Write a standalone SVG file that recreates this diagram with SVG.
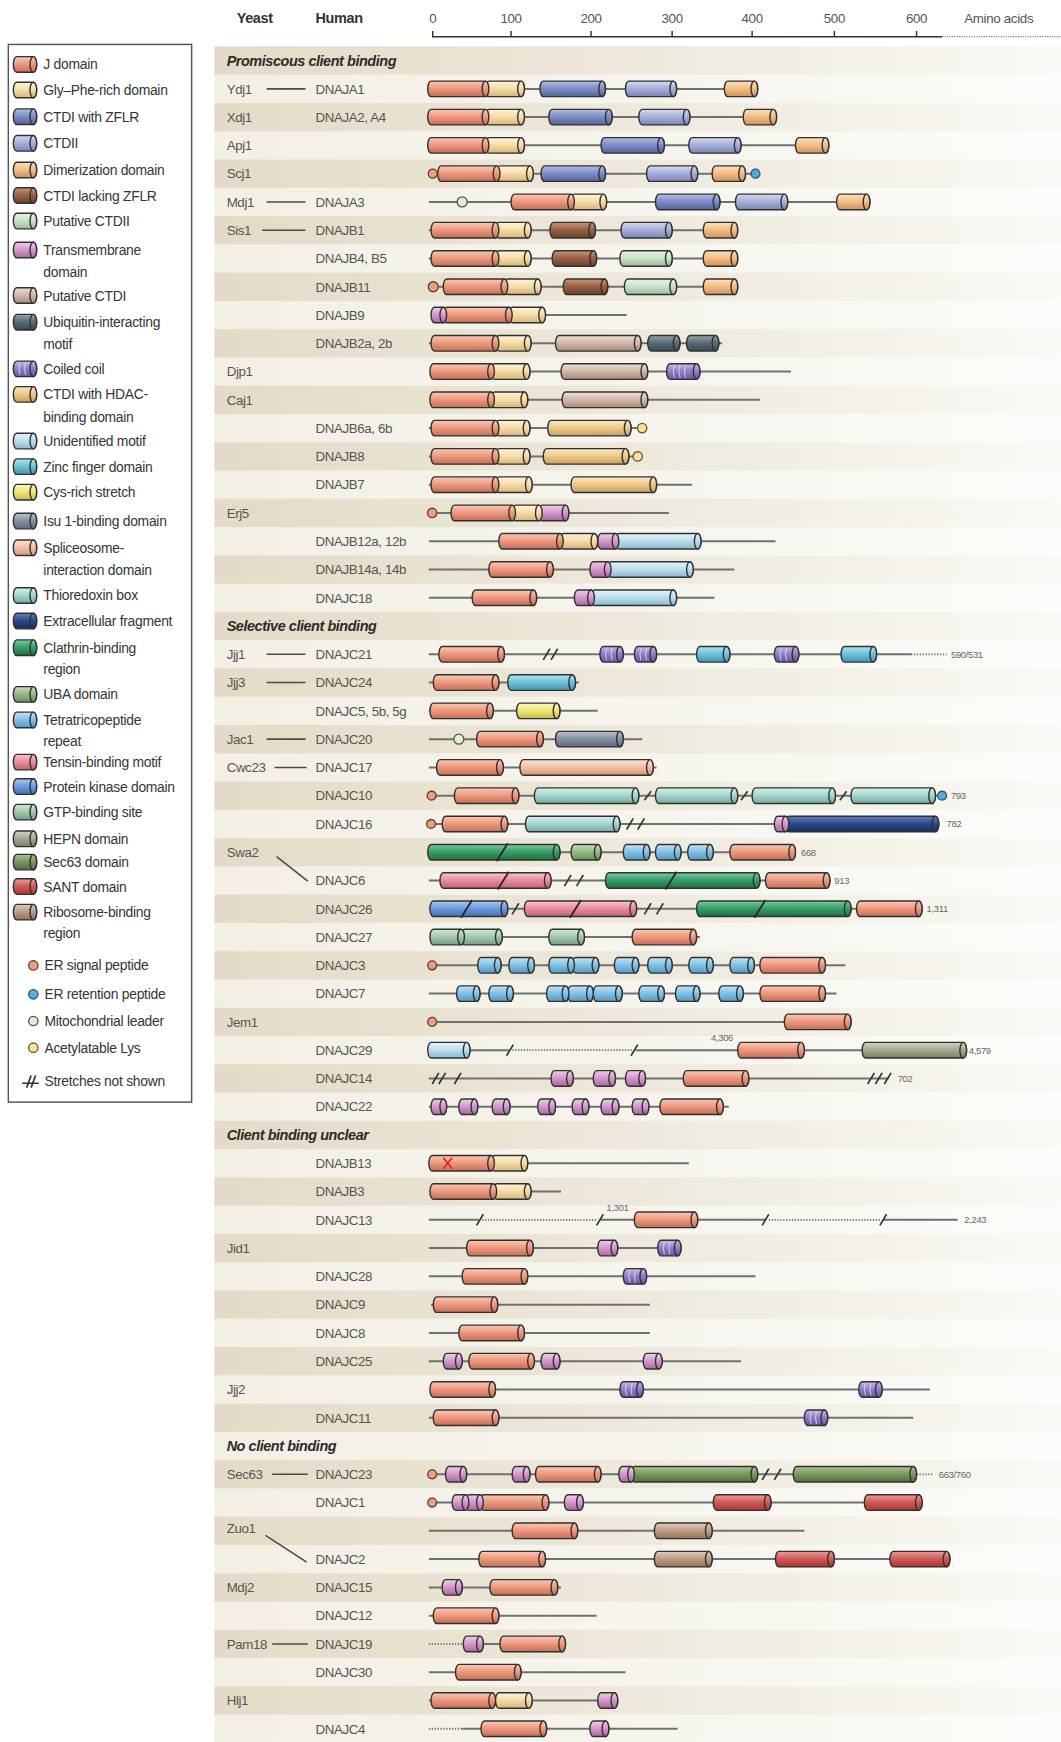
<svg xmlns="http://www.w3.org/2000/svg" width="1061" height="1742" viewBox="0 0 1061 1742">
<defs>
<linearGradient id="bgL" x1="0" y1="0" x2="1" y2="0"><stop offset="0" stop-color="#f3efe5"/><stop offset="0.6" stop-color="#f7f5ef"/><stop offset="1" stop-color="#fdfcfa"/></linearGradient>
<linearGradient id="bgD" x1="0" y1="0" x2="1" y2="0"><stop offset="0" stop-color="#e3dbc7"/><stop offset="0.3" stop-color="#e9e3d3"/><stop offset="0.65" stop-color="#f1ede3"/><stop offset="1" stop-color="#faf9f5"/></linearGradient>
<linearGradient id="gj" x1="0" y1="0" x2="0" y2="1"><stop offset="0" stop-color="#f9c8b6"/><stop offset=".45" stop-color="#ef9b80"/><stop offset="1" stop-color="#c46e58"/></linearGradient>
<linearGradient id="ggf" x1="0" y1="0" x2="0" y2="1"><stop offset="0" stop-color="#fef3da"/><stop offset=".45" stop-color="#f7dea9"/><stop offset="1" stop-color="#d6b57c"/></linearGradient>
<linearGradient id="gc1" x1="0" y1="0" x2="0" y2="1"><stop offset="0" stop-color="#b4bfe5"/><stop offset=".45" stop-color="#7f8fc7"/><stop offset="1" stop-color="#56639a"/></linearGradient>
<linearGradient id="gc2" x1="0" y1="0" x2="0" y2="1"><stop offset="0" stop-color="#d6dbf1"/><stop offset=".45" stop-color="#a9b1dc"/><stop offset="1" stop-color="#7c84b2"/></linearGradient>
<linearGradient id="gdm" x1="0" y1="0" x2="0" y2="1"><stop offset="0" stop-color="#fbdfbf"/><stop offset=".45" stop-color="#f4bf86"/><stop offset="1" stop-color="#cc945f"/></linearGradient>
<linearGradient id="gcl" x1="0" y1="0" x2="0" y2="1"><stop offset="0" stop-color="#c8957d"/><stop offset=".45" stop-color="#9b6346"/><stop offset="1" stop-color="#6c412c"/></linearGradient>
<linearGradient id="gpc2" x1="0" y1="0" x2="0" y2="1"><stop offset="0" stop-color="#e8f4e6"/><stop offset=".45" stop-color="#cbe4c9"/><stop offset="1" stop-color="#9cbb99"/></linearGradient>
<linearGradient id="gtm" x1="0" y1="0" x2="0" y2="1"><stop offset="0" stop-color="#efcdea"/><stop offset=".45" stop-color="#d79bd0"/><stop offset="1" stop-color="#a66a9f"/></linearGradient>
<linearGradient id="gpc1" x1="0" y1="0" x2="0" y2="1"><stop offset="0" stop-color="#ede0d8"/><stop offset=".45" stop-color="#d5b9aa"/><stop offset="1" stop-color="#a68b7d"/></linearGradient>
<linearGradient id="gui" x1="0" y1="0" x2="0" y2="1"><stop offset="0" stop-color="#96a4ae"/><stop offset=".45" stop-color="#5c6d79"/><stop offset="1" stop-color="#3b4850"/></linearGradient>
<linearGradient id="gcc" x1="0" y1="0" x2="0" y2="1"><stop offset="0" stop-color="#c6b9e8"/><stop offset=".45" stop-color="#9480c8"/><stop offset="1" stop-color="#67559a"/></linearGradient>
<linearGradient id="ghd" x1="0" y1="0" x2="0" y2="1"><stop offset="0" stop-color="#fae7c2"/><stop offset=".45" stop-color="#efcb8b"/><stop offset="1" stop-color="#c5a063"/></linearGradient>
<linearGradient id="gum" x1="0" y1="0" x2="0" y2="1"><stop offset="0" stop-color="#e4f3fa"/><stop offset=".45" stop-color="#bde0f1"/><stop offset="1" stop-color="#8db7cd"/></linearGradient>
<linearGradient id="gzf" x1="0" y1="0" x2="0" y2="1"><stop offset="0" stop-color="#b2e3f0"/><stop offset=".45" stop-color="#6fc4dc"/><stop offset="1" stop-color="#4593aa"/></linearGradient>
<linearGradient id="gcy" x1="0" y1="0" x2="0" y2="1"><stop offset="0" stop-color="#fbf7c0"/><stop offset=".45" stop-color="#f3e978"/><stop offset="1" stop-color="#c6ba4c"/></linearGradient>
<linearGradient id="gis" x1="0" y1="0" x2="0" y2="1"><stop offset="0" stop-color="#bcc4cf"/><stop offset=".45" stop-color="#8793a5"/><stop offset="1" stop-color="#5e697a"/></linearGradient>
<linearGradient id="gsp" x1="0" y1="0" x2="0" y2="1"><stop offset="0" stop-color="#fce4d6"/><stop offset=".45" stop-color="#f5c2a6"/><stop offset="1" stop-color="#d0977b"/></linearGradient>
<linearGradient id="gtx" x1="0" y1="0" x2="0" y2="1"><stop offset="0" stop-color="#d7f0eb"/><stop offset=".45" stop-color="#a6d8d0"/><stop offset="1" stop-color="#74aaa1"/></linearGradient>
<linearGradient id="gef" x1="0" y1="0" x2="0" y2="1"><stop offset="0" stop-color="#6482be"/><stop offset=".45" stop-color="#2c4c8c"/><stop offset="1" stop-color="#182c58"/></linearGradient>
<linearGradient id="gcb" x1="0" y1="0" x2="0" y2="1"><stop offset="0" stop-color="#7bcb9f"/><stop offset=".45" stop-color="#38a068"/><stop offset="1" stop-color="#216f44"/></linearGradient>
<linearGradient id="gub" x1="0" y1="0" x2="0" y2="1"><stop offset="0" stop-color="#c9dfbe"/><stop offset=".45" stop-color="#97bd85"/><stop offset="1" stop-color="#6b8e5d"/></linearGradient>
<linearGradient id="gtp" x1="0" y1="0" x2="0" y2="1"><stop offset="0" stop-color="#c3e3f5"/><stop offset=".45" stop-color="#84c4e8"/><stop offset="1" stop-color="#5898bf"/></linearGradient>
<linearGradient id="gtn" x1="0" y1="0" x2="0" y2="1"><stop offset="0" stop-color="#f8c6cf"/><stop offset=".45" stop-color="#ec8fa0"/><stop offset="1" stop-color="#bf6272"/></linearGradient>
<linearGradient id="gpk" x1="0" y1="0" x2="0" y2="1"><stop offset="0" stop-color="#adc8f1"/><stop offset=".45" stop-color="#6e9ce0"/><stop offset="1" stop-color="#476faf"/></linearGradient>
<linearGradient id="ggt" x1="0" y1="0" x2="0" y2="1"><stop offset="0" stop-color="#d4e7d8"/><stop offset=".45" stop-color="#a7cbaf"/><stop offset="1" stop-color="#779e80"/></linearGradient>
<linearGradient id="ghp" x1="0" y1="0" x2="0" y2="1"><stop offset="0" stop-color="#d3d4c3"/><stop offset=".45" stop-color="#a9ab91"/><stop offset="1" stop-color="#7c7e67"/></linearGradient>
<linearGradient id="gs63" x1="0" y1="0" x2="0" y2="1"><stop offset="0" stop-color="#afc696"/><stop offset=".45" stop-color="#7c9a62"/><stop offset="1" stop-color="#556d3c"/></linearGradient>
<linearGradient id="gsa" x1="0" y1="0" x2="0" y2="1"><stop offset="0" stop-color="#ee9e9c"/><stop offset=".45" stop-color="#d55b58"/><stop offset="1" stop-color="#a53735"/></linearGradient>
<linearGradient id="grb" x1="0" y1="0" x2="0" y2="1"><stop offset="0" stop-color="#e2ccbc"/><stop offset=".45" stop-color="#c29f86"/><stop offset="1" stop-color="#93735c"/></linearGradient>
</defs>
<style>
text{font-family:"Liberation Sans",Arial,sans-serif}
.lg{font-size:12.5px;fill:#353535;letter-spacing:-0.25px}
.nm{font-size:12px;fill:#555;letter-spacing:-0.35px}
.hd{font-size:13px;font-weight:bold;font-style:italic;fill:#2b2b2b;letter-spacing:-0.4px}
.th{font-size:13px;font-weight:bold;fill:#333;letter-spacing:-0.3px}
.ax{font-size:12px;fill:#555;text-anchor:middle;letter-spacing:-0.3px}
.sm{font-size:8.5px;fill:#666;letter-spacing:-0.3px}
.ln{stroke:#707070;stroke-width:1.8;fill:none}
.dl{stroke:#707070;stroke-width:1.6;stroke-dasharray:1.2 1.4;fill:none}
.cn{stroke:#4a4a4a;stroke-width:1.4;fill:none}
.sl{stroke:#333;stroke-width:1.5;fill:none}
.sb{stroke:#2a2a2a;stroke-width:1.7;fill:none}
.stz{stroke:#e6def7;stroke-width:0.9;fill:none;opacity:0.85}
.d rect,.d ellipse{stroke:#303030;stroke-width:1.25}
.d rect{y:-7px;height:14px;rx:3px;ry:7px}
.d ellipse{cy:0px;rx:3px;ry:7px}
.er{fill:#e7a086;stroke:#6b3b26;stroke-width:1.2}
.ret{fill:#56acd9;stroke:#245a7a;stroke-width:1.2}
.mit{fill:#e4ebd6;stroke:#4b5947;stroke-width:1.2}
.ac{fill:#f7e4a0;stroke:#6b5a22;stroke-width:1.2}
.j{fill:url(#gj)}.gf{fill:url(#ggf)}.c1{fill:url(#gc1)}.c2{fill:url(#gc2)}.dm{fill:url(#gdm)}.cl{fill:url(#gcl)}.pc2{fill:url(#gpc2)}.tm{fill:url(#gtm)}.pc1{fill:url(#gpc1)}.ui{fill:url(#gui)}.cc{fill:url(#gcc)}.hdac{fill:url(#ghd)}.um{fill:url(#gum)}.zf{fill:url(#gzf)}.cy{fill:url(#gcy)}.is{fill:url(#gis)}.spl{fill:url(#gsp)}.tx{fill:url(#gtx)}.ef{fill:url(#gef)}.cb{fill:url(#gcb)}.ub{fill:url(#gub)}.tp{fill:url(#gtp)}.tn{fill:url(#gtn)}.pk{fill:url(#gpk)}.gt{fill:url(#ggt)}.hp{fill:url(#ghp)}.s63{fill:url(#gs63)}.sa{fill:url(#gsa)}.rb{fill:url(#grb)}
</style>
<rect x="0" y="0" width="1061" height="1742" fill="#ffffff"/>
<g transform="scale(1.11099)">

<!-- panel background -->
<g id="panel">
<rect x="193" y="41.8" width="762" height="1527" fill="url(#bgL)"/>
<rect x="193" y="41.78" width="762" height="25.45" fill="url(#bgD)"/>
<rect x="193" y="92.68" width="762" height="25.45" fill="url(#bgD)"/>
<rect x="193" y="143.58" width="762" height="25.45" fill="url(#bgD)"/>
<rect x="193" y="194.48" width="762" height="25.45" fill="url(#bgD)"/>
<rect x="193" y="245.38" width="762" height="25.45" fill="url(#bgD)"/>
<rect x="193" y="296.28" width="762" height="25.45" fill="url(#bgD)"/>
<rect x="193" y="347.18" width="762" height="25.45" fill="url(#bgD)"/>
<rect x="193" y="398.08" width="762" height="25.45" fill="url(#bgD)"/>
<rect x="193" y="448.98" width="762" height="25.45" fill="url(#bgD)"/>
<rect x="193" y="499.88" width="762" height="25.45" fill="url(#bgD)"/>
<rect x="193" y="550.78" width="762" height="25.45" fill="url(#bgD)"/>
<rect x="193" y="601.68" width="762" height="25.45" fill="url(#bgD)"/>
<rect x="193" y="652.58" width="762" height="25.45" fill="url(#bgD)"/>
<rect x="193" y="703.48" width="762" height="25.45" fill="url(#bgD)"/>
<rect x="193" y="754.38" width="762" height="25.45" fill="url(#bgD)"/>
<rect x="193" y="805.28" width="762" height="25.45" fill="url(#bgD)"/>
<rect x="193" y="856.18" width="762" height="25.45" fill="url(#bgD)"/>
<rect x="193" y="907.08" width="762" height="25.45" fill="url(#bgD)"/>
<rect x="193" y="957.98" width="762" height="25.45" fill="url(#bgD)"/>
<rect x="193" y="1008.88" width="762" height="25.45" fill="url(#bgD)"/>
<rect x="193" y="1059.78" width="762" height="25.45" fill="url(#bgD)"/>
<rect x="193" y="1110.68" width="762" height="25.45" fill="url(#bgD)"/>
<rect x="193" y="1161.58" width="762" height="25.45" fill="url(#bgD)"/>
<rect x="193" y="1212.48" width="762" height="25.45" fill="url(#bgD)"/>
<rect x="193" y="1263.38" width="762" height="25.45" fill="url(#bgD)"/>
<rect x="193" y="1314.28" width="762" height="25.45" fill="url(#bgD)"/>
<rect x="193" y="1365.18" width="762" height="25.45" fill="url(#bgD)"/>
<rect x="193" y="1416.08" width="762" height="25.45" fill="url(#bgD)"/>
<rect x="193" y="1466.98" width="762" height="25.45" fill="url(#bgD)"/>
<rect x="193" y="1517.88" width="762" height="25.45" fill="url(#bgD)"/>
</g>

<!-- header and axis -->
<g id="header">
<text class="th" x="213" y="21">Yeast</text>
<text class="th" x="284" y="21">Human</text>
<text class="ax" x="389.5" y="21">0</text>
<text class="ax" x="460" y="21">100</text>
<text class="ax" x="532" y="21">200</text>
<text class="ax" x="605" y="21">300</text>
<text class="ax" x="677" y="21">400</text>
<text class="ax" x="751" y="21">500</text>
<text class="ax" x="825" y="21">600</text>
<text class="ax" x="899" y="21">Amino acids</text>
<path d="M389.5 28V33H848M460 28V33M532 28V33M605 28V33M677 28V33M751 28V33M825 28V33" stroke="#333" stroke-width="1.3" fill="none"/>
<path d="M848 33H955" stroke="#777" stroke-width="1" stroke-dasharray="1 1.2" fill="none"/>
</g>

<!-- legend -->
<g id="legend">
<rect x="7.5" y="40" width="165" height="952" fill="#fff" stroke="#555" stroke-width="1.3"/>
<g transform="translate(0,58)"><g class="d"><rect class="j" x="12" width="21"/><ellipse class="j" cx="30"/></g><text class="lg" x="39" y="4.5">J domain</text></g>
<g transform="translate(0,81)"><g class="d"><rect class="gf" x="12" width="21"/><ellipse class="gf" cx="30"/></g><text class="lg" x="39" y="4.5">Gly–Phe-rich domain</text></g>
<g transform="translate(0,105)"><g class="d"><rect class="c1" x="12" width="21"/><ellipse class="c1" cx="30"/></g><text class="lg" x="39" y="4.5">CTDI with ZFLR</text></g>
<g transform="translate(0,129)"><g class="d"><rect class="c2" x="12" width="21"/><ellipse class="c2" cx="30"/></g><text class="lg" x="39" y="4.5">CTDII</text></g>
<g transform="translate(0,153)"><g class="d"><rect class="dm" x="12" width="21"/><ellipse class="dm" cx="30"/></g><text class="lg" x="39" y="4.5">Dimerization domain</text></g>
<g transform="translate(0,176)"><g class="d"><rect class="cl" x="12" width="21"/><ellipse class="cl" cx="30"/></g><text class="lg" x="39" y="4.5">CTDI lacking ZFLR</text></g>
<g transform="translate(0,199)"><g class="d"><rect class="pc2" x="12" width="21"/><ellipse class="pc2" cx="30"/></g><text class="lg" x="39" y="4.5">Putative CTDII</text></g>
<g transform="translate(0,225)"><g class="d"><rect class="tm" x="12" width="21"/><ellipse class="tm" cx="30"/></g><text class="lg" x="39" y="4.5">Transmembrane</text><text class="lg" x="39" y="24.5">domain</text></g>
<g transform="translate(0,266)"><g class="d"><rect class="pc1" x="12" width="21"/><ellipse class="pc1" cx="30"/></g><text class="lg" x="39" y="4.5">Putative CTDI</text></g>
<g transform="translate(0,290)"><g class="d"><rect class="ui" x="12" width="21"/><ellipse class="ui" cx="30"/></g><text class="lg" x="39" y="4.5">Ubiquitin-interacting</text><text class="lg" x="39" y="24.5">motif</text></g>
<g transform="translate(0,332)"><g class="d"><rect class="cc" x="12" width="21"/><ellipse class="cc" cx="30"/></g><path class="stz" d="M18 -5.5q-2 5.5 0 11M23 -5.5q-2 5.5 0 11"/><text class="lg" x="39" y="4.5">Coiled coil</text></g>
<g transform="translate(0,355)"><g class="d"><rect class="hdac" x="12" width="21"/><ellipse class="hdac" cx="30"/></g><text class="lg" x="39" y="4.5">CTDI with HDAC-</text><text class="lg" x="39" y="24.5">binding domain</text></g>
<g transform="translate(0,397)"><g class="d"><rect class="um" x="12" width="21"/><ellipse class="um" cx="30"/></g><text class="lg" x="39" y="4.5">Unidentified motif</text></g>
<g transform="translate(0,420)"><g class="d"><rect class="zf" x="12" width="21"/><ellipse class="zf" cx="30"/></g><text class="lg" x="39" y="4.5">Zinc finger domain</text></g>
<g transform="translate(0,443)"><g class="d"><rect class="cy" x="12" width="21"/><ellipse class="cy" cx="30"/></g><text class="lg" x="39" y="4.5">Cys-rich stretch</text></g>
<g transform="translate(0,469)"><g class="d"><rect class="is" x="12" width="21"/><ellipse class="is" cx="30"/></g><text class="lg" x="39" y="4.5">Isu 1-binding domain</text></g>
<g transform="translate(0,493)"><g class="d"><rect class="spl" x="12" width="21"/><ellipse class="spl" cx="30"/></g><text class="lg" x="39" y="4.5">Spliceosome-</text><text class="lg" x="39" y="24.5">interaction domain</text></g>
<g transform="translate(0,536)"><g class="d"><rect class="tx" x="12" width="21"/><ellipse class="tx" cx="30"/></g><text class="lg" x="39" y="4.5">Thioredoxin box</text></g>
<g transform="translate(0,559)"><g class="d"><rect class="ef" x="12" width="21"/><ellipse class="ef" cx="30"/></g><text class="lg" x="39" y="4.5">Extracellular fragment</text></g>
<g transform="translate(0,583)"><g class="d"><rect class="cb" x="12" width="21"/><ellipse class="cb" cx="30"/></g><text class="lg" x="39" y="4.5">Clathrin-binding</text><text class="lg" x="39" y="23.5">region</text></g>
<g transform="translate(0,625)"><g class="d"><rect class="ub" x="12" width="21"/><ellipse class="ub" cx="30"/></g><text class="lg" x="39" y="4.5">UBA domain</text></g>
<g transform="translate(0,648)"><g class="d"><rect class="tp" x="12" width="21"/><ellipse class="tp" cx="30"/></g><text class="lg" x="39" y="4.5">Tetratricopeptide</text><text class="lg" x="39" y="23.5">repeat</text></g>
<g transform="translate(0,686)"><g class="d"><rect class="tn" x="12" width="21"/><ellipse class="tn" cx="30"/></g><text class="lg" x="39" y="4.5">Tensin-binding motif</text></g>
<g transform="translate(0,708)"><g class="d"><rect class="pk" x="12" width="21"/><ellipse class="pk" cx="30"/></g><text class="lg" x="39" y="4.5">Protein kinase domain</text></g>
<g transform="translate(0,731)"><g class="d"><rect class="gt" x="12" width="21"/><ellipse class="gt" cx="30"/></g><text class="lg" x="39" y="4.5">GTP-binding site</text></g>
<g transform="translate(0,755)"><g class="d"><rect class="hp" x="12" width="21"/><ellipse class="hp" cx="30"/></g><text class="lg" x="39" y="4.5">HEPN domain</text></g>
<g transform="translate(0,776)"><g class="d"><rect class="s63" x="12" width="21"/><ellipse class="s63" cx="30"/></g><text class="lg" x="39" y="4.5">Sec63 domain</text></g>
<g transform="translate(0,798)"><g class="d"><rect class="sa" x="12" width="21"/><ellipse class="sa" cx="30"/></g><text class="lg" x="39" y="4.5">SANT domain</text></g>
<g transform="translate(0,821)"><g class="d"><rect class="rb" x="12" width="21"/><ellipse class="rb" cx="30"/></g><text class="lg" x="39" y="4.5">Ribosome-binding</text><text class="lg" x="39" y="23.5">region</text></g>
<circle class="er" cx="30" cy="869" r="4.2"/><text class="lg" x="40" y="873.5">ER signal peptide</text>
<circle class="ret" cx="30" cy="895" r="4.2"/><text class="lg" x="40" y="899.5">ER retention peptide</text>
<circle class="mit" cx="30" cy="919" r="4.2"/><text class="lg" x="40" y="923.5">Mitochondrial leader</text>
<circle class="ac" cx="30" cy="943" r="4.2"/><text class="lg" x="40" y="947.5">Acetylatable Lys</text>
<path class="sl" d="M20 975H35M24 979L28 968M28 979L32 968"/><text class="lg" x="40" y="977.5">Stretches not shown</text>
</g>

<!-- section headers -->
<g id="sections">
<text class="hd" x="204" y="59">Promiscous client binding</text>
<text class="hd" x="204" y="568">Selective client binding</text>
<text class="hd" x="204" y="1026">Client binding unclear</text>
<text class="hd" x="204" y="1306">No client binding</text>
</g>

<!-- connectors between yeast and human orthologues -->
<g id="connectors">
<path class="cn" d="M240 80H275"/>
<path class="cn" d="M240 181.75H275"/>
<path class="cn" d="M236 207.2H275"/>
<path class="cn" d="M240 588.95H275"/>
<path class="cn" d="M240 614.4H275"/>
<path class="cn" d="M240 665.3H275"/>
<path class="cn" d="M247 690.75H276"/>
<path class="cn" d="M249 771L277 793"/>
<path class="cn" d="M245 1327H277"/>
<path class="cn" d="M239 1382L276 1406"/>
<path class="cn" d="M245 1479.7H277"/>
</g>

<!-- rows -->
<g id="r-ydj1" transform="translate(0,80)"><path class="ln" d="M388 0H670"/><g class="d"><rect class="j" x="385" width="55"/><rect class="gf" x="437" width="35"/><rect class="c1" x="486" width="59"/><rect class="c2" x="563" width="46"/><rect class="dm" x="652" width="30"/><ellipse class="j" cx="437"/><ellipse class="gf" cx="469"/><ellipse class="c1" cx="542"/><ellipse class="c2" cx="606"/><ellipse class="dm" cx="679"/></g><text class="nm" x="204" y="4.3">Ydj1</text><text class="nm" x="284" y="4.3">DNAJA1</text></g>

<g id="r-xdj1" transform="translate(0,105.4)"><path class="ln" d="M388 0H690"/><g class="d"><rect class="j" x="385" width="55"/><rect class="gf" x="437" width="35"/><rect class="c1" x="494" width="57"/><rect class="c2" x="575" width="46"/><rect class="dm" x="669" width="30"/><ellipse class="j" cx="437"/><ellipse class="gf" cx="469"/><ellipse class="c1" cx="548"/><ellipse class="c2" cx="618"/><ellipse class="dm" cx="696"/></g><text class="nm" x="204" y="4.3">Xdj1</text><text class="nm" x="284" y="4.3">DNAJA2, A4</text></g>

<g id="r-apj1" transform="translate(0,130.85)"><path class="ln" d="M388 0H735"/><g class="d"><rect class="j" x="385" width="55"/><rect class="gf" x="437" width="35"/><rect class="c1" x="541" width="57"/><rect class="c2" x="620" width="47"/><rect class="dm" x="716" width="30"/><ellipse class="j" cx="437"/><ellipse class="gf" cx="469"/><ellipse class="c1" cx="595"/><ellipse class="c2" cx="664"/><ellipse class="dm" cx="743"/></g><text class="nm" x="204" y="4.3">Apj1</text></g>

<g id="r-scj1" transform="translate(0,156.3)"><path class="ln" d="M390 0H680"/><g class="d"><rect class="j" x="394" width="56"/><rect class="gf" x="447" width="33"/><rect class="c1" x="487" width="58"/><rect class="c2" x="582" width="46"/><rect class="dm" x="641" width="30"/><ellipse class="j" cx="447"/><ellipse class="gf" cx="477"/><ellipse class="c1" cx="542"/><ellipse class="c2" cx="625"/><ellipse class="dm" cx="668"/></g><circle class="er" cx="389.5" r="4"/><circle class="ret" cx="680" r="4"/><text class="nm" x="204" y="4.3">Scj1</text></g>

<g id="r-mdj1" transform="translate(0,181.75)"><path class="ln" d="M386 0H770"/><circle class="mit" cx="416" r="4.5"/><g class="d"><rect class="j" x="460" width="57"/><rect class="gf" x="514" width="32"/><rect class="c1" x="590" width="58"/><rect class="c2" x="662" width="47"/><rect class="dm" x="753" width="30"/><ellipse class="j" cx="514"/><ellipse class="gf" cx="543"/><ellipse class="c1" cx="645"/><ellipse class="c2" cx="706"/><ellipse class="dm" cx="780"/></g><text class="nm" x="204" y="4.3">Mdj1</text><text class="nm" x="284" y="4.3">DNAJA3</text></g>

<g id="r-sis1" transform="translate(0,207.2)"><path class="ln" d="M386 0H663"/><g class="d"><rect class="j" x="388" width="61"/><rect class="gf" x="446" width="32"/><rect class="cl" x="495" width="41"/><rect class="c2" x="559" width="46"/><rect class="dm" x="633" width="31"/><ellipse class="j" cx="446"/><ellipse class="gf" cx="475"/><ellipse class="cl" cx="533"/><ellipse class="c2" cx="602"/><ellipse class="dm" cx="661"/></g><text class="nm" x="204" y="4.3">Sis1</text><text class="nm" x="284" y="4.3">DNAJB1</text></g>

<g id="r-dnajb4" transform="translate(0,232.65)"><path class="ln" d="M386 0H663"/><g class="d"><rect class="j" x="388" width="61"/><rect class="gf" x="446" width="32"/><rect class="cl" x="497" width="40"/><rect class="pc2" x="558" width="47"/><rect class="dm" x="633" width="31"/><ellipse class="j" cx="446"/><ellipse class="gf" cx="475"/><ellipse class="cl" cx="534"/><ellipse class="pc2" cx="602"/><ellipse class="dm" cx="661"/></g><text class="nm" x="284" y="4.3">DNAJB4, B5</text></g>

<g id="r-dnajb11" transform="translate(0,258.1)"><path class="ln" d="M390 0H663"/><circle class="er" cx="390" r="4.5"/><g class="d"><rect class="j" x="399" width="58"/><rect class="gf" x="454" width="33"/><rect class="cl" x="507" width="40"/><rect class="pc2" x="562" width="47"/><rect class="dm" x="633" width="31"/><ellipse class="j" cx="454"/><ellipse class="gf" cx="484"/><ellipse class="cl" cx="544"/><ellipse class="pc2" cx="606"/><ellipse class="dm" cx="661"/></g><text class="nm" x="284" y="4.3">DNAJB11</text></g>

<g id="r-dnajb9" transform="translate(0,283.55)"><path class="ln" d="M470 0H564"/><g class="d"><rect class="tm" x="388" width="14"/><rect class="j" x="399" width="62"/><rect class="gf" x="458" width="33"/><ellipse class="tm" cx="399"/><ellipse class="j" cx="458"/><ellipse class="gf" cx="488"/></g><text class="nm" x="284" y="4.3">DNAJB9</text></g>

<g id="r-dnajb2" transform="translate(0,309)"><path class="ln" d="M386 0H650"/><g class="d"><rect class="j" x="388" width="61"/><rect class="gf" x="446" width="32"/><rect class="pc1" x="500" width="77"/><rect class="ui" x="583" width="29"/><rect class="ui" x="618" width="29"/><ellipse class="j" cx="446"/><ellipse class="gf" cx="475"/><ellipse class="pc1" cx="574"/><ellipse class="ui" cx="609"/><ellipse class="ui" cx="644"/></g><text class="nm" x="284" y="4.3">DNAJB2a, 2b</text></g>

<g id="r-djp1" transform="translate(0,334.45)"><path class="ln" d="M390 0H712"/><g class="d"><rect class="j" x="387" width="58"/><rect class="gf" x="442" width="35"/><rect class="pc1" x="505" width="78"/><rect class="cc" x="600" width="30"/><ellipse class="j" cx="442"/><ellipse class="gf" cx="474"/><ellipse class="pc1" cx="580"/><ellipse class="cc" cx="627"/></g><path class="stz" d="M607 -5.5q-2 5.5 0 11M612 -5.5q-2 5.5 0 11M617 -5.5q-2 5.5 0 11"/><text class="nm" x="204" y="4.3">Djp1</text></g>

<g id="r-caj1" transform="translate(0,359.9)"><path class="ln" d="M390 0H684"/><g class="d"><rect class="j" x="387" width="58"/><rect class="gf" x="442" width="33"/><rect class="pc1" x="506" width="77"/><ellipse class="j" cx="442"/><ellipse class="gf" cx="472"/><ellipse class="pc1" cx="580"/></g><text class="nm" x="204" y="4.3">Caj1</text></g>

<g id="r-dnajb6" transform="translate(0,385.35)"><path class="ln" d="M386 0H574"/><g class="d"><rect class="j" x="388" width="61"/><rect class="gf" x="446" width="31"/><rect class="hdac" x="493" width="75"/><ellipse class="j" cx="446"/><ellipse class="gf" cx="474"/><ellipse class="hdac" cx="565"/></g><circle class="ac" cx="578" r="4.2"/><text class="nm" x="284" y="4.3">DNAJB6a, 6b</text></g>

<g id="r-dnajb8" transform="translate(0,410.8)"><path class="ln" d="M386 0H570"/><g class="d"><rect class="j" x="388" width="61"/><rect class="gf" x="446" width="31"/><rect class="hdac" x="489" width="77"/><ellipse class="j" cx="446"/><ellipse class="gf" cx="474"/><ellipse class="hdac" cx="563"/></g><circle class="ac" cx="574" r="4.2"/><text class="nm" x="284" y="4.3">DNAJB8</text></g>

<g id="r-dnajb7" transform="translate(0,436.25)"><path class="ln" d="M386 0H623"/><g class="d"><rect class="j" x="388" width="61"/><rect class="gf" x="446" width="33"/><rect class="hdac" x="514" width="77"/><ellipse class="j" cx="446"/><ellipse class="gf" cx="476"/><ellipse class="hdac" cx="588"/></g><text class="nm" x="284" y="4.3">DNAJB7</text></g>

<g id="r-erj5" transform="translate(0,461.7)"><path class="ln" d="M390 0H602"/><circle class="er" cx="389" r="4.2"/><g class="d"><rect class="j" x="406" width="58"/><rect class="gf" x="461" width="27"/><rect class="tm" x="485" width="27"/><ellipse class="j" cx="461"/><ellipse class="gf" cx="485"/><ellipse class="tm" cx="509"/></g><text class="nm" x="204" y="4.3">Erj5</text></g>

<g id="r-dnajb12" transform="translate(0,487.15)"><path class="ln" d="M386 0H698"/><g class="d"><rect class="j" x="449" width="58"/><rect class="gf" x="504" width="34"/><rect class="tm" x="538" width="19"/><rect class="um" x="554" width="77"/><ellipse class="j" cx="504"/><ellipse class="gf" cx="535"/><ellipse class="tm" cx="554"/><ellipse class="um" cx="628"/></g><text class="nm" x="284" y="4.3">DNAJB12a, 12b</text></g>

<g id="r-dnajb14" transform="translate(0,512.6)"><path class="ln" d="M386 0H661"/><g class="d"><rect class="j" x="440" width="58"/><rect class="tm" x="531" width="19"/><rect class="um" x="547" width="77"/><ellipse class="j" cx="495"/><ellipse class="tm" cx="547"/><ellipse class="um" cx="621"/></g><text class="nm" x="284" y="4.3">DNAJB14a, 14b</text></g>

<g id="r-dnajc18" transform="translate(0,538.05)"><path class="ln" d="M386 0H643"/><g class="d"><rect class="j" x="425" width="58"/><rect class="tm" x="517" width="18"/><rect class="um" x="532" width="77"/><ellipse class="j" cx="480"/><ellipse class="tm" cx="532"/><ellipse class="um" cx="606"/></g><text class="nm" x="284" y="4.3">DNAJC18</text></g>

<g id="r-jjj1" transform="translate(0,588.95)"><path class="ln" d="M386 0H820"/><path class="dl" d="M820 0H852"/><path class="sl" d="M489 5L495 -5M496 5L502 -5"/><g class="d"><rect class="j" x="395" width="59"/><rect class="cc" x="540" width="21"/><rect class="cc" x="571" width="20"/><rect class="zf" x="627" width="30"/><rect class="cc" x="697" width="22"/><rect class="zf" x="757" width="32"/><ellipse class="j" cx="451"/><ellipse class="cc" cx="558"/><ellipse class="cc" cx="588"/><ellipse class="zf" cx="654"/><ellipse class="cc" cx="716"/><ellipse class="zf" cx="786"/></g><path class="stz" d="M546 -5.5q-2 5.5 0 11M551 -5.5q-2 5.5 0 11M577 -5.5q-2 5.5 0 11M582 -5.5q-2 5.5 0 11M703 -5.5q-2 5.5 0 11M708 -5.5q-2 5.5 0 11"/><text class="sm" x="856" y="3">590/531</text><text class="nm" x="204" y="4.3">Jjj1</text><text class="nm" x="284" y="4.3">DNAJC21</text></g>

<g id="r-jjj3" transform="translate(0,614.4)"><path class="ln" d="M386 0H521"/><g class="d"><rect class="j" x="390" width="59"/><rect class="zf" x="457" width="61"/><ellipse class="j" cx="446"/><ellipse class="zf" cx="515"/></g><text class="nm" x="204" y="4.3">Jjj3</text><text class="nm" x="284" y="4.3">DNAJC24</text></g>

<g id="r-dnajc5" transform="translate(0,639.85)"><path class="ln" d="M386 0H538"/><g class="d"><rect class="j" x="387" width="57"/><rect class="cy" x="465" width="39"/><ellipse class="j" cx="441"/><ellipse class="cy" cx="501"/></g><text class="nm" x="284" y="4.3">DNAJC5, 5b, 5g</text></g>

<g id="r-jac1" transform="translate(0,665.3)"><path class="ln" d="M386 0H578"/><circle class="mit" cx="413" r="4.5"/><g class="d"><rect class="j" x="429" width="60"/><rect class="is" x="500" width="61"/><ellipse class="j" cx="486"/><ellipse class="is" cx="558"/></g><text class="nm" x="204" y="4.3">Jac1</text><text class="nm" x="284" y="4.3">DNAJC20</text></g>

<g id="r-cwc23" transform="translate(0,690.75)"><path class="ln" d="M386 0H591"/><g class="d"><rect class="j" x="393" width="60"/><rect class="spl" x="468" width="120"/><ellipse class="j" cx="450"/><ellipse class="spl" cx="585"/></g><text class="nm" x="204" y="4.3">Cwc23</text><text class="nm" x="284" y="4.3">DNAJC17</text></g>

<g id="r-dnajc10" transform="translate(0,716.2)"><path class="ln" d="M390 0H848"/><circle class="er" cx="388.5" r="4"/><path class="sl" d="M580 4L586 -4M667 4L673 -4M756 4L762 -4"/><g class="d"><rect class="j" x="409" width="58"/><rect class="tx" x="481" width="94"/><rect class="tx" x="590" width="74"/><rect class="tx" x="677" width="75"/><rect class="tx" x="766" width="76"/><ellipse class="j" cx="464"/><ellipse class="tx" cx="572"/><ellipse class="tx" cx="661"/><ellipse class="tx" cx="749"/><ellipse class="tx" cx="839"/></g><circle class="ret" cx="848" r="4"/><text class="sm" x="856" y="3">793</text><text class="nm" x="284" y="4.3">DNAJC10</text></g>

<g id="r-dnajc16" transform="translate(0,741.65)"><path class="ln" d="M390 0H710"/><circle class="er" cx="388" r="4"/><path class="sl" d="M564 5L570 -5M574 5L580 -5"/><g class="d"><rect class="j" x="398" width="59"/><rect class="tx" x="473" width="85"/><rect class="tm" x="697" width="13"/><rect class="ef" x="707" width="138"/><ellipse class="j" cx="454"/><ellipse class="tx" cx="555"/><ellipse class="tm" cx="707"/><ellipse class="ef" cx="842"/></g><text class="sm" x="852" y="3">782</text><text class="nm" x="284" y="4.3">DNAJC16</text></g>

<g id="r-swa2" transform="translate(0,767.1)"><path class="ln" d="M390 0H716"/><g class="d"><rect class="cb" x="385" width="119"/><rect class="ub" x="514" width="27"/><rect class="tp" x="561" width="24"/><rect class="tp" x="590" width="23"/><rect class="tp" x="619" width="23"/><rect class="j" x="657" width="59"/><ellipse class="cb" cx="501"/><ellipse class="ub" cx="538"/><ellipse class="tp" cx="582"/><ellipse class="tp" cx="610"/><ellipse class="tp" cx="639"/><ellipse class="j" cx="713"/></g><path class="sb" d="M447 8L457 -8"/><text class="sm" x="721" y="3">668</text><text class="nm" x="204" y="4.3">Swa2</text></g>

<g id="r-dnajc6" transform="translate(0,792.55)"><path class="ln" d="M386 0H747"/><path class="sl" d="M508 5L514 -5M519 5L525 -5"/><g class="d"><rect class="tn" x="396" width="100"/><rect class="cb" x="545" width="139"/><rect class="j" x="689" width="58"/><ellipse class="tn" cx="493"/><ellipse class="cb" cx="681"/><ellipse class="j" cx="744"/></g><path class="sb" d="M448 8L458 -8M599 8L609 -8"/><text class="sm" x="751" y="3">913</text><text class="nm" x="284" y="4.3">DNAJC6</text></g>

<g id="r-dnajc26" transform="translate(0,818)"><path class="ln" d="M386 0H830"/><path class="sl" d="M461 5L467 -5M580 5L586 -5M591 5L597 -5"/><g class="d"><rect class="pk" x="387" width="70"/><rect class="tn" x="472" width="101"/><rect class="cb" x="627" width="139"/><rect class="j" x="771" width="59"/><ellipse class="pk" cx="454"/><ellipse class="tn" cx="570"/><ellipse class="cb" cx="763"/><ellipse class="j" cx="827"/></g><path class="sb" d="M415 8L425 -8M513 8L523 -8M679 8L689 -8"/><text class="sm" x="834" y="3">1,311</text><text class="nm" x="284" y="4.3">DNAJC26</text></g>

<g id="r-dnajc27" transform="translate(0,843.45)"><path class="ln" d="M390 0H630"/><g class="d"><rect class="gt" x="387" width="31"/><rect class="gt" x="415" width="37"/><rect class="gt" x="494" width="32"/><rect class="j" x="569" width="58"/><ellipse class="gt" cx="415"/><ellipse class="gt" cx="449"/><ellipse class="gt" cx="523"/><ellipse class="j" cx="624"/></g><text class="nm" x="284" y="4.3">DNAJC27</text></g>

<g id="r-dnajc3" transform="translate(0,868.9)"><path class="ln" d="M390 0H761"/><circle class="er" cx="389" r="4"/><g class="d"><rect class="tp" x="430" width="21"/><rect class="tp" x="458" width="23"/><rect class="tp" x="494" width="23"/><rect class="tp" x="515" width="24"/><rect class="tp" x="553" width="22"/><rect class="tp" x="583" width="22"/><rect class="tp" x="620" width="22"/><rect class="tp" x="657" width="22"/><rect class="j" x="684" width="59"/><ellipse class="tp" cx="448"/><ellipse class="tp" cx="478"/><ellipse class="tp" cx="514"/><ellipse class="tp" cx="536"/><ellipse class="tp" cx="572"/><ellipse class="tp" cx="602"/><ellipse class="tp" cx="639"/><ellipse class="tp" cx="676"/><ellipse class="j" cx="740"/></g><text class="nm" x="284" y="4.3">DNAJC3</text></g>

<g id="r-dnajc7" transform="translate(0,894.35)"><path class="ln" d="M386 0H753"/><g class="d"><rect class="tp" x="411" width="21"/><rect class="tp" x="440" width="22"/><rect class="tp" x="492" width="20"/><rect class="tp" x="511" width="23"/><rect class="tp" x="534" width="26"/><rect class="tp" x="575" width="23"/><rect class="tp" x="608" width="22"/><rect class="tp" x="647" width="22"/><rect class="j" x="684" width="59"/><ellipse class="tp" cx="429"/><ellipse class="tp" cx="459"/><ellipse class="tp" cx="509"/><ellipse class="tp" cx="531"/><ellipse class="tp" cx="557"/><ellipse class="tp" cx="595"/><ellipse class="tp" cx="627"/><ellipse class="tp" cx="666"/><ellipse class="j" cx="740"/></g><text class="nm" x="284" y="4.3">DNAJC7</text></g>

<g id="r-jem1" transform="translate(0,919.8)"><path class="ln" d="M390 0H708"/><circle class="er" cx="389" r="4"/><g class="d"><rect class="j" x="706" width="60"/><ellipse class="j" cx="763"/></g><text class="nm" x="204" y="4.3">Jem1</text></g>

<g id="r-dnajc29" transform="translate(0,945.25)"><path class="ln" d="M420 0H458M572 0H776"/><path class="dl" d="M461 0H569"/><path class="sl" d="M456 5L462 -5M568 5L574 -5"/><g class="d"><rect class="um" x="385" width="38"/><rect class="j" x="664" width="60"/><rect class="hp" x="776" width="94"/><ellipse class="um" cx="420"/><ellipse class="j" cx="721"/><ellipse class="hp" cx="867"/></g><text class="sm" x="640" y="-8">4,306</text><text class="sm" x="872" y="3">4,579</text><text class="nm" x="284" y="4.3">DNAJC29</text></g>

<g id="r-dnajc14" transform="translate(0,970.7)"><path class="ln" d="M386 0H800"/><path class="sl" d="M389 5L395 -5M395 5L401 -5M409 5L415 -5M781 5L787 -5M788 5L794 -5M796 5L802 -5"/><g class="d"><rect class="tm" x="496" width="20"/><rect class="tm" x="534" width="20"/><rect class="tm" x="563" width="18"/><rect class="j" x="615" width="59"/><ellipse class="tm" cx="513"/><ellipse class="tm" cx="551"/><ellipse class="tm" cx="578"/><ellipse class="j" cx="671"/></g><text class="sm" x="808" y="3">702</text><text class="nm" x="284" y="4.3">DNAJC14</text></g>

<g id="r-dnajc22" transform="translate(0,996.15)"><path class="ln" d="M386 0H656"/><g class="d"><rect class="tm" x="388" width="14"/><rect class="tm" x="413" width="17"/><rect class="tm" x="443" width="16"/><rect class="tm" x="484" width="16"/><rect class="tm" x="515" width="15"/><rect class="tm" x="541" width="16"/><rect class="tm" x="569" width="15"/><rect class="j" x="594" width="57"/><ellipse class="tm" cx="399"/><ellipse class="tm" cx="427"/><ellipse class="tm" cx="456"/><ellipse class="tm" cx="497"/><ellipse class="tm" cx="527"/><ellipse class="tm" cx="554"/><ellipse class="tm" cx="581"/><ellipse class="j" cx="648"/></g><text class="nm" x="284" y="4.3">DNAJC22</text></g>

<g id="r-dnajb13" transform="translate(0,1047.05)"><path class="ln" d="M388 0H620"/><g class="d"><rect class="j" x="386" width="59"/><rect class="gf" x="442" width="33"/><ellipse class="j" cx="442"/><ellipse class="gf" cx="472"/></g><path d="M399 -5L407 5M407 -5L399 5" stroke="#e0242a" stroke-width="1.6" fill="none"/><text class="nm" x="284" y="4.3">DNAJB13</text></g>

<g id="r-dnajb3" transform="translate(0,1072.5)"><path class="ln" d="M388 0H505"/><g class="d"><rect class="j" x="387" width="60"/><rect class="gf" x="444" width="34"/><ellipse class="j" cx="444"/><ellipse class="gf" cx="475"/></g><text class="nm" x="284" y="4.3">DNAJB3</text></g>

<g id="r-dnajc13" transform="translate(0,1097.95)"><path class="ln" d="M386 0H431M540 0H689M795 0H862"/><path class="dl" d="M434 0H537M692 0H792"/><path class="sl" d="M429 5L435 -5M537 5L543 -5M686 5L692 -5M792 5L798 -5"/><g class="d"><rect class="j" x="571" width="57"/><ellipse class="j" cx="625"/></g><text class="sm" x="546" y="-8">1,301</text><text class="sm" x="868" y="3">2,243</text><text class="nm" x="284" y="4.3">DNAJC13</text></g>

<g id="r-jid1" transform="translate(0,1123.4)"><path class="ln" d="M386 0H613"/><g class="d"><rect class="j" x="420" width="60"/><rect class="tm" x="538" width="18"/><rect class="cc" x="592" width="21"/><ellipse class="j" cx="477"/><ellipse class="tm" cx="553"/><ellipse class="cc" cx="610"/></g><path class="stz" d="M598 -5.5q-2 5.5 0 11M603 -5.5q-2 5.5 0 11"/><text class="nm" x="204" y="4.3">Jid1</text></g>

<g id="r-dnajc28" transform="translate(0,1148.85)"><path class="ln" d="M386 0H680"/><g class="d"><rect class="j" x="416" width="59"/><rect class="cc" x="561" width="21"/><ellipse class="j" cx="472"/><ellipse class="cc" cx="579"/></g><path class="stz" d="M567 -5.5q-2 5.5 0 11M572 -5.5q-2 5.5 0 11"/><text class="nm" x="284" y="4.3">DNAJC28</text></g>

<g id="r-dnajc9" transform="translate(0,1174.3)"><path class="ln" d="M388 0H585"/><g class="d"><rect class="j" x="390" width="58"/><ellipse class="j" cx="445"/></g><text class="nm" x="284" y="4.3">DNAJC9</text></g>

<g id="r-dnajc8" transform="translate(0,1199.75)"><path class="ln" d="M386 0H585"/><g class="d"><rect class="j" x="413" width="59"/><ellipse class="j" cx="469"/></g><text class="nm" x="284" y="4.3">DNAJC8</text></g>

<g id="r-dnajc25" transform="translate(0,1225.2)"><path class="ln" d="M386 0H667"/><g class="d"><rect class="tm" x="399" width="17"/><rect class="j" x="422" width="59"/><rect class="tm" x="487" width="17"/><rect class="tm" x="579" width="17"/><ellipse class="tm" cx="413"/><ellipse class="j" cx="478"/><ellipse class="tm" cx="501"/><ellipse class="tm" cx="593"/></g><text class="nm" x="284" y="4.3">DNAJC25</text></g>

<g id="r-jjj2" transform="translate(0,1250.65)"><path class="ln" d="M390 0H837"/><g class="d"><rect class="j" x="387" width="59"/><rect class="cc" x="558" width="21"/><rect class="cc" x="773" width="21"/><ellipse class="j" cx="443"/><ellipse class="cc" cx="576"/><ellipse class="cc" cx="791"/></g><path class="stz" d="M564 -5.5q-2 5.5 0 11M569 -5.5q-2 5.5 0 11M779 -5.5q-2 5.5 0 11M784 -5.5q-2 5.5 0 11"/><text class="nm" x="204" y="4.3">Jjj2</text></g>

<g id="r-dnajc11" transform="translate(0,1276.1)"><path class="ln" d="M386 0H822"/><g class="d"><rect class="j" x="390" width="59"/><rect class="cc" x="724" width="21"/><ellipse class="j" cx="446"/><ellipse class="cc" cx="742"/></g><path class="stz" d="M730 -5.5q-2 5.5 0 11M735 -5.5q-2 5.5 0 11"/><text class="nm" x="284" y="4.3">DNAJC11</text></g>

<g id="r-sec63" transform="translate(0,1327)"><path class="ln" d="M390 0H825"/><path class="dl" d="M825 0H840"/><circle class="er" cx="389" r="4"/><path class="sl" d="M686 5L692 -5M697 5L703 -5"/><g class="d"><rect class="tm" x="401" width="19"/><rect class="tm" x="461" width="16"/><rect class="j" x="482" width="59"/><rect class="tm" x="557" width="14"/><rect class="s63" x="568" width="114"/><rect class="s63" x="714" width="111"/><ellipse class="tm" cx="417"/><ellipse class="tm" cx="474"/><ellipse class="j" cx="538"/><ellipse class="tm" cx="568"/><ellipse class="s63" cx="679"/><ellipse class="s63" cx="822"/></g><text class="sm" x="845" y="3">663/760</text><text class="nm" x="204" y="4.3">Sec63</text><text class="nm" x="284" y="4.3">DNAJC23</text></g>

<g id="r-dnajc1" transform="translate(0,1352.45)"><path class="ln" d="M390 0H830"/><circle class="er" cx="389" r="4"/><g class="d"><rect class="tm" x="407" width="15"/><rect class="tm" x="419" width="16"/><rect class="j" x="432" width="62"/><rect class="tm" x="508" width="17"/><rect class="sa" x="642" width="52"/><rect class="sa" x="778" width="52"/><ellipse class="tm" cx="419"/><ellipse class="tm" cx="432"/><ellipse class="j" cx="491"/><ellipse class="tm" cx="522"/><ellipse class="sa" cx="691"/><ellipse class="sa" cx="827"/></g><text class="nm" x="284" y="4.3">DNAJC1</text></g>

<g id="r-zuo1" transform="translate(0,1377.9)"><path class="ln" d="M386 0H724"/><g class="d"><rect class="j" x="461" width="59"/><rect class="rb" x="589" width="52"/><ellipse class="j" cx="517"/><ellipse class="rb" cx="638"/></g><text class="nm" x="204" y="2.3">Zuo1</text></g>

<g id="r-dnajc2" transform="translate(0,1403.35)"><path class="ln" d="M386 0H853"/><g class="d"><rect class="j" x="431" width="60"/><rect class="rb" x="589" width="52"/><rect class="sa" x="698" width="53"/><rect class="sa" x="801" width="54"/><ellipse class="j" cx="488"/><ellipse class="rb" cx="638"/><ellipse class="sa" cx="748"/><ellipse class="sa" cx="852"/></g><text class="nm" x="284" y="4.3">DNAJC2</text></g>

<g id="r-mdj2" transform="translate(0,1428.8)"><path class="ln" d="M386 0H505"/><g class="d"><rect class="tm" x="398" width="18"/><rect class="j" x="441" width="61"/><ellipse class="tm" cx="413"/><ellipse class="j" cx="499"/></g><text class="nm" x="204" y="4.3">Mdj2</text><text class="nm" x="284" y="4.3">DNAJC15</text></g>

<g id="r-dnajc12" transform="translate(0,1454.25)"><path class="ln" d="M386 0H537"/><g class="d"><rect class="j" x="390" width="59"/><ellipse class="j" cx="446"/></g><text class="nm" x="284" y="4.3">DNAJC12</text></g>

<g id="r-pam18" transform="translate(0,1479.7)"><path class="dl" d="M386 0H417"/><path class="ln" d="M420 0H508"/><g class="d"><rect class="tm" x="417" width="18"/><rect class="j" x="450" width="59"/><ellipse class="tm" cx="432"/><ellipse class="j" cx="506"/></g><text class="nm" x="204" y="4.3">Pam18</text><text class="nm" x="284" y="4.3">DNAJC19</text></g>

<g id="r-dnajc30" transform="translate(0,1505.15)"><path class="ln" d="M386 0H563"/><g class="d"><rect class="j" x="410" width="59"/><ellipse class="j" cx="466"/></g><text class="nm" x="284" y="4.3">DNAJC30</text></g>

<g id="r-hlj1" transform="translate(0,1530.6)"><path class="ln" d="M386 0H554"/><g class="d"><rect class="j" x="388" width="58"/><rect class="gf" x="446" width="33"/><rect class="tm" x="538" width="18"/><ellipse class="j" cx="443"/><ellipse class="gf" cx="476"/><ellipse class="tm" cx="553"/></g><text class="nm" x="204" y="4.3">Hlj1</text></g>

<g id="r-dnajc4" transform="translate(0,1556.05)"><path class="dl" d="M386 0H416"/><path class="ln" d="M416 0H610"/><g class="d"><rect class="j" x="433" width="59"/><rect class="tm" x="531" width="17"/><ellipse class="j" cx="489"/><ellipse class="tm" cx="545"/></g><text class="nm" x="284" y="4.3">DNAJC4</text></g>

</g>
</svg>
